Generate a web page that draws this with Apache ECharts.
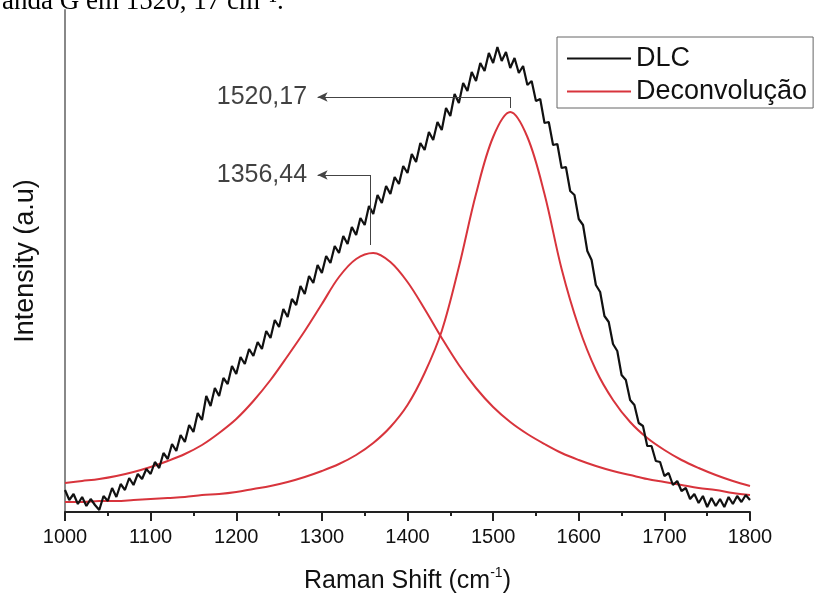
<!DOCTYPE html>
<html>
<head>
<meta charset="utf-8">
<script src="https://cdn.jsdelivr.net/npm/echarts@6/dist/echarts.min.js"></script>
<style>html,body{margin:0;padding:0;background:#fff}#c{width:821px;height:596px}</style>
</head>
<body>
<div id="c"></div>
<script>
// ---- data ----
const xMin = 1000, xMax = 1800, xInterval = 100;
const dlcStart = 1000, dlcStep = 5;
const dlcValues = [
  22,12,18,8,15,6,13,7,2,16,11,24,15,28,22,34,27,38,33,43,
  38,50,44,59,53,68,61,77,70,87,80,99,92,116,106,124,116,134,128,146,
  138,155,148,163,156,170,163,181,174,192,185,203,195,213,207,226,218,236,229,247,
  239,256,249,266,259,276,268,285,277,294,287,306,298,317,309,326,318,335,328,346,
  339,358,350,369,362,380,372,390,382,404,396,418,409,429,421,440,431,449,441,459,
  449,465,451,460,444,454,439,446,427,431,411,413,389,390,367,368,344,345,321,317,
  293,287,261,252,227,220,196,190,168,161,137,132,112,107,89,86,66,66,51,50,
  36,39,27,31,21,24,13,18,9,16,5,14,6,13,5,15,8,16,10,17,
  12
];
const fitStart = 1000, fitStep = 20;
const bandD = [29,31,33,36,40,45,51,58,67,79,93,111,132,156,181,208,235,253,259,250,230,203,174,147,124,105,90,78,68,59,52,46,41,37,33,30,27,24,22,19,17];
const bandG = [10,10,11,11,12,13,14,15,17,18,20,23,26,30,35,41,48,57,69,85,107,139,181,245,318,375,400,375,318,243,185,142,112,90,74,62,52,44,37,31,26];
const peakCenters = [1356.44, 1520.17];
const peakLabels = ['1356,44', '1520,17'];
const annBottom = [267, 404];
const annTop = [337, 415];
const annLeftX = 1295;

// ---- build ----
const dlcData = dlcValues.map((v, i) => [dlcStart + i * dlcStep, v]);
const dData = bandD.map((v, i) => [fitStart + i * fitStep, v]);
const gData = bandG.map((v, i) => [fitStart + i * fitStep, v]);

const FONT = '"Liberation Sans", Arial, sans-serif';
const RED = '#d8343c';
const INK = '#111';

const mlData = [];
peakCenters.forEach((c, i) => {
  mlData.push([{coord: [c, annBottom[i]], symbol: 'none'}, {coord: [c, annTop[i]], symbol: 'none'}]);
  mlData.push([{coord: [c, annTop[i]], symbol: 'none'}, {coord: [annLeftX, annTop[i]], symbol: 'arrow', symbolSize: [7, 10]}]);
});
const labelData = peakCenters.map((c, i) => ({value: [annLeftX, annTop[i]], name: peakLabels[i]}));

const chart = echarts.init(document.getElementById('c'), null, {renderer: 'canvas'});
chart.setOption({
  animation: false,
  backgroundColor: '#fff',
  textStyle: {fontFamily: FONT},
  grid: {left: 65, right: 71, top: 10, bottom: 84, containLabel: false, outerBoundsMode: 'none'},
  graphic: [{
    type: 'text', left: 2, top: -12,
    style: {text: 'anda G em 1520, 17 cm\u207B\u00B9.', font: '27px "Liberation Serif", serif', fill: '#000'}
  }],
  legend: {
    data: [{name: 'DLC', icon: 'rect'}, {name: 'Deconvolução', icon: 'rect'}],
    orient: 'vertical', left: 557, top: 37,
    itemWidth: 64, itemHeight: 2, itemGap: 6,
    padding: [8, 6, 3, 10],
    borderColor: '#666', borderWidth: 1,
    textStyle: {fontSize: 27, color: INK, fontFamily: FONT}
  },
  xAxis: {
    type: 'value', min: xMin, max: xMax, interval: xInterval,
    name: 'Raman Shift (cm{sup|-1})', nameLocation: 'middle', nameGap: 54,
    nameTextStyle: {fontSize: 25, color: INK, fontFamily: FONT, lineHeight: 30,
      rich: {sup: {fontSize: 14, verticalAlign: 'top', lineHeight: 30, color: INK, fontFamily: FONT}}},
    axisLine: {lineStyle: {color: '#222', width: 2}},
    axisTick: {show: true, length: 9, lineStyle: {color: '#222', width: 2}},
    minorTick: {show: true, splitNumber: 2, length: 4, lineStyle: {color: '#222', width: 2}},
    axisLabel: {fontSize: 20, color: INK, margin: 15, fontFamily: FONT, formatter: v => String(v)},
    splitLine: {show: false}
  },
  yAxis: {
    type: 'value', min: 0, max: 502,
    name: 'Intensity (a.u)', nameLocation: 'middle', nameGap: 26,
    nameTextStyle: {fontSize: 27, color: INK, fontFamily: FONT},
    axisLine: {show: true, lineStyle: {color: '#888', width: 2}},
    axisTick: {show: false}, axisLabel: {show: false}, splitLine: {show: false}
  },
  series: [
    {name: 'Deconvolução', type: 'line', data: dData, smooth: 0.35, symbol: 'none',
     lineStyle: {color: RED, width: 2}, itemStyle: {color: RED}, z: 2},
    {name: 'Deconvolução', type: 'line', data: gData, smooth: 0.35, symbol: 'none',
     lineStyle: {color: RED, width: 2}, itemStyle: {color: RED}, z: 2,
     markLine: {silent: true, animation: false, label: {show: false},
       lineStyle: {color: '#444', width: 1, type: 'solid'}, data: mlData}},
    {name: 'DLC', type: 'line', data: dlcData, symbol: 'none',
     lineStyle: {color: INK, width: 2.2}, itemStyle: {color: INK}, z: 3},
    {name: 'labels', type: 'scatter', data: labelData, symbolSize: 1,
     itemStyle: {color: 'rgba(0,0,0,0)'}, silent: true,
     label: {show: true, position: 'left', distance: 10, formatter: p => p.name,
       fontSize: 25, color: INK, fontFamily: FONT}}
  ]
});
</script>
</body>
</html>
